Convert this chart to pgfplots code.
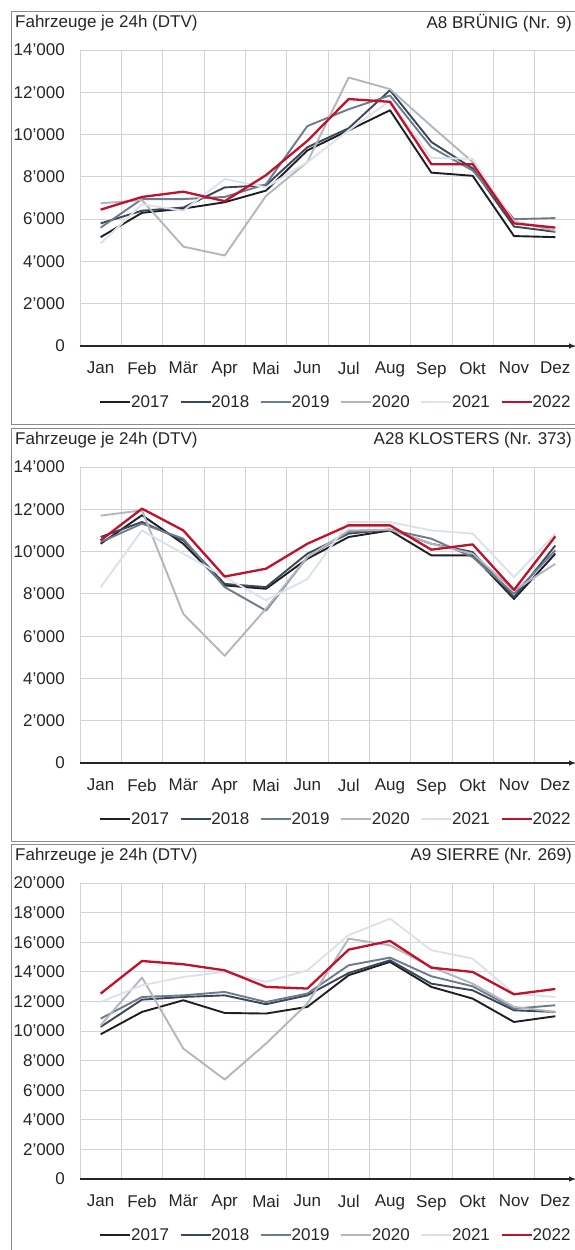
\documentclass[border=0pt]{standalone}
\usepackage{fontspec}
\setmainfont{Liberation Sans}
\usepackage{pgfplots}
\usepackage{pgfplotstable}
\pgfplotsset{compat=1.18}

\definecolor{c17}{HTML}{1E1F26}
\definecolor{c18}{HTML}{3C4858}
\definecolor{c19}{HTML}{6C7B8D}
\definecolor{c20}{HTML}{B3B7BC}
\definecolor{c21}{HTML}{DCE2EA}
\definecolor{c22}{HTML}{C0122B}
\definecolor{gridc}{HTML}{D4D4D4}
\definecolor{framec}{HTML}{8C8C8C}
\definecolor{txt}{HTML}{262626}
\newcommand{\fs}{\fontsize{17}{20}\selectfont}

\pgfplotstableread{
m y17 y18 y19 y20 y21 y22
1 5150 5800 5600 6750 4850 6450
2 6300 6400 6950 6900 6700 7050
3 6500 6550 6950 4700 6400 7300
4 6800 7500 7050 4280 7900 6850
5 7350 7600 7650 7100 7500 8080
6 9250 9400 10400 8700 8700 9700
7 10200 10300 11200 12700 10200 11680
8 11150 12100 11850 12150 11600 11550
9 8200 9650 9400 10400 8900 8600
10 8050 8400 8300 8700 8850 8600
11 5200 5650 6000 5900 5850 5800
12 5150 5400 6050 5450 5600 5600
}\brunig

\pgfplotstableread{
m y17 y18 y19 y20 y21 y22
1 10370 10690 10450 11700 8320 10530
2 11720 11400 11320 11950 11000 12030
3 10370 10530 10610 7050 9900 11000
4 8400 8470 8320 5070 8800 8820
5 8240 8320 7210 7300 7700 9190
6 9660 9900 9740 9740 8700 10370
7 10690 10850 10930 11000 11400 11240
8 11000 11040 11040 11040 11400 11240
9 9820 10370 10610 10370 11000 10090
10 9820 9980 9740 9900 10850 10340
11 7760 7840 8000 8160 8790 8190
12 9900 10290 10060 9420 10850 10720
}\klosters

\pgfplotstableread{
m y17 y18 y19 y20 y21 y22
1 9780 10280 10840 10390 11960 12530
2 11290 12120 12300 13610 13090 14730
3 12080 12300 12410 8810 13650 14510
4 11220 12410 12640 6720 14000 14100
5 11180 11810 11960 9150 13320 12980
6 11630 12410 12530 11850 14100 12870
7 13770 13920 14440 16240 16470 15500
8 14670 14780 14960 15790 17590 16090
9 12980 13200 13700 14330 15460 14280
10 12190 12750 13020 13200 14890 13990
11 10610 11400 11510 11630 12530 12480
12 11000 11290 11740 11290 12300 12840
}\sierre

\pgfplotsset{
  panel/.style={
    scale only axis, width=496pt, height=296pt, anchor=south west,
    xmin=0.5, xmax=12.5, ymin=0,
    scaled y ticks=false,
    axis x line=bottom, axis y line=left,
    y axis line style={draw=none},
    x axis line style={-latex, line width=1.4pt, txt},
    xtick={1,...,12},
    xticklabels={Jan,Feb,Mär,Apr,Mai,Jun,Jul,Aug,Sep,Okt,Nov,Dez},
    minor xtick={0.5,1.5,...,12.5},
    xmajorgrids=false, xminorgrids=true, ymajorgrids=true,
    grid style={gridc, line width=0.9pt},
    minor grid style={gridc, line width=0.9pt},
    major tick length=0pt, minor tick length=0pt,
    tick label style={font=\fs, text=txt},
    xticklabel style={anchor=north, inner sep=0pt, yshift=-16pt},
    yticklabel style={anchor=east, inner sep=0pt, xshift=-15pt},
    legend columns=6,
    legend style={at={(0.514,-0.189)}, anchor=center, draw=none, fill=none,
      font=\fs, text=txt, inner sep=0pt, outer sep=0pt,
      nodes={inner sep=0pt},
      /tikz/every even column/.append style={column sep=10.5pt}},
    legend image code/.code={\draw[#1] (0pt,0pt) -- (30pt,0pt);},
    every axis plot/.append style={line width=1.9pt, line join=round, no marks},
  },
  p14/.style={ymax=14000, ytick={0,2000,...,14000},
    yticklabels={0,2'000,4'000,6'000,8'000,10'000,12'000,14'000}},
  p20/.style={ymax=20000, ytick={0,2000,...,20000},
    yticklabels={0,2'000,4'000,6'000,8'000,10'000,12'000,14'000,16'000,18'000,20'000}},
}

\newcommand{\series}[1]{%
  \addplot[c17] table[x=m,y=y17] {#1};
  \addplot[c18] table[x=m,y=y18] {#1};
  \addplot[c19] table[x=m,y=y19] {#1};
  \addplot[c20] table[x=m,y=y20] {#1};
  \addplot[c21] table[x=m,y=y21] {#1};
  \addplot[c22, line width=2.3pt] table[x=m,y=y22] {#1};
  \legend{2017,2018,2019,2020,2021,2022}}

\begin{document}
\begin{tikzpicture}
\useasboundingbox (0pt,0pt) rectangle (574pt,-1250pt);
\fill[white] (0pt,0pt) rectangle (574pt,-1250pt);
\draw[framec, line width=1pt] (11pt,-11pt) rectangle (600pt,-424pt);
\draw[framec, line width=1pt] (11pt,-428pt) rectangle (600pt,-841pt);
\draw[framec, line width=1pt] (11pt,-844pt) rectangle (600pt,-1265pt);

\node[anchor=west, inner sep=0pt, font=\fs, text=txt] at (15pt,-23pt) {Fahrzeuge je 24h (DTV)};
\node[anchor=east, inner sep=0pt, font=\fs, text=txt] at (572pt,-23pt) {A8 BRÜNIG (Nr. 9)};
\node[anchor=west, inner sep=0pt, font=\fs, text=txt] at (15pt,-440pt) {Fahrzeuge je 24h (DTV)};
\node[anchor=east, inner sep=0pt, font=\fs, text=txt] at (572pt,-440pt) {A28 KLOSTERS (Nr. 373)};
\node[anchor=west, inner sep=0pt, font=\fs, text=txt] at (15pt,-856pt) {Fahrzeuge je 24h (DTV)};
\node[anchor=east, inner sep=0pt, font=\fs, text=txt] at (572pt,-856pt) {A9 SIERRE (Nr. 269)};

\begin{axis}[panel, p14, at={(80pt,-346pt)}]
\series{\brunig}
\end{axis}
\begin{axis}[panel, p14, at={(80pt,-763pt)}]
\series{\klosters}
\end{axis}
\begin{axis}[panel, p20, at={(80pt,-1179pt)}]
\series{\sierre}
\end{axis}
\end{tikzpicture}
\end{document}
